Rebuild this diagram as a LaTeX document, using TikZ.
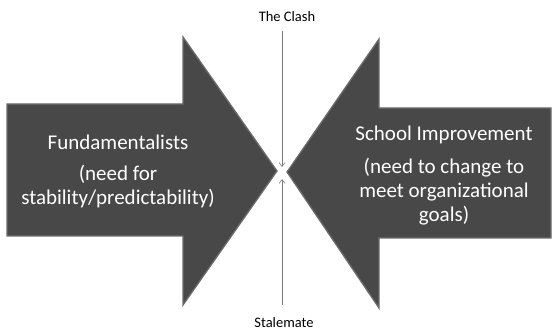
\documentclass[tikz,border=0pt]{standalone}
\usepackage{fontspec}
\setmainfont{Carlito}
\usetikzlibrary{arrows.meta}
\definecolor{arrowfill}{HTML}{484848}
\definecolor{arrowedge}{HTML}{6C6C6C}
\definecolor{guide}{HTML}{7A7A7A}
\begin{document}
\begin{tikzpicture}[x=1pt,y=-1pt,
  bigarrow/.style={fill=arrowfill,draw=arrowedge,line width=1.3pt,line join=miter},
  arrowtext/.style={text=white,align=center,font=\fontsize{21}{24}\selectfont,inner sep=0pt},
  smalltext/.style={text=black,font=\fontsize{14.5}{17}\selectfont,inner sep=0pt},
  guideline/.style={draw=guide,line width=0.6pt,-{Straight Barb[length=4pt,width=6pt,line width=0.6pt]}}]
  \useasboundingbox (0,0) rectangle (552,331);
  % left block arrow
  \path[bigarrow] (7,104) -- (183,104) -- (183,37) -- (277,171) -- (183,305) -- (183,236) -- (7,236) -- cycle;
  % right block arrow
  \path[bigarrow] (551,108) -- (379,108) -- (379,39) -- (287,172) -- (379,308) -- (379,238) -- (551,238) -- cycle;
  % labels inside the arrows
  \node[arrowtext] (fund) at (118,171) {Fundamentalists\\[7pt](need for\\stability/predictability)};
  \node[arrowtext] (school) at (444,175.5) {School Improvement\\[9pt](need to change to\\meet organizational\\goals)};
  % labels above and below
  \node[smalltext] (clash) at (287,17) {The Clash};
  \node[smalltext] (stale) at (284,323) {Stalemate};
  % guide lines meeting between the tips
  \coordinate (topstart) at (282,31);
  \coordinate (topend) at (282,167);
  \coordinate (botstart) at (282,305);
  \coordinate (botend) at (282,179);
  \draw[guideline] (topstart) -- (topend);
  \draw[guideline] (botstart) -- (botend);
\end{tikzpicture}
\end{document}
